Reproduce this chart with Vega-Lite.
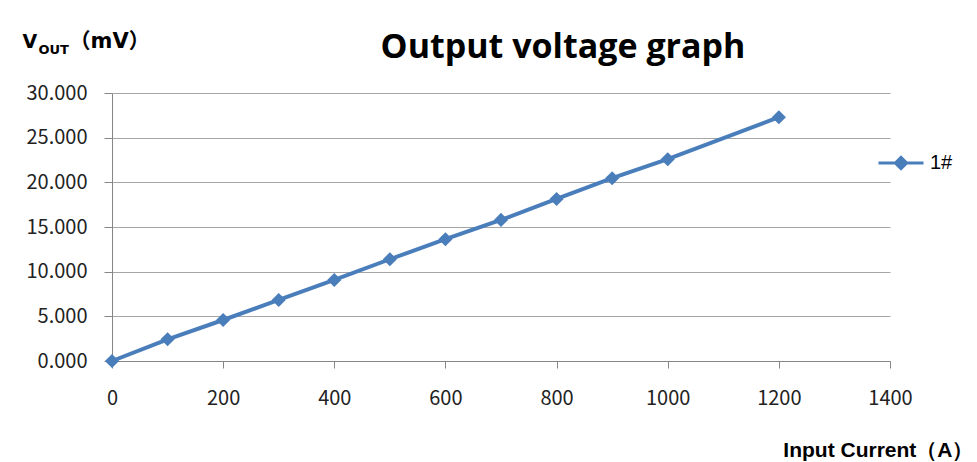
{
  "$schema": "https://vega.github.io/schema/vega-lite/v6.json",
  "width": 778,
  "height": 268,
  "autosize": {"type": "none"},
  "padding": {"left": 112, "top": 93, "right": 87, "bottom": 101},
  "background": "white",
  "title": {"text": "Output voltage graph", "font": "Open Sans", "fontSize": 34, "fontWeight": "bold", "color": "#000000", "anchor": "middle", "dx": 62, "offset": 0, "dy": 35},
  "data": {"values": [
    {"current": 0, "vout": 0.0, "series": "1#"},
    {"current": 100, "vout": 2.43, "series": "1#"},
    {"current": 200, "vout": 4.59, "series": "1#"},
    {"current": 300, "vout": 6.83, "series": "1#"},
    {"current": 400, "vout": 9.07, "series": "1#"},
    {"current": 500, "vout": 11.39, "series": "1#"},
    {"current": 600, "vout": 13.63, "series": "1#"},
    {"current": 700, "vout": 15.79, "series": "1#"},
    {"current": 800, "vout": 18.14, "series": "1#"},
    {"current": 900, "vout": 20.46, "series": "1#"},
    {"current": 1000, "vout": 22.59, "series": "1#"},
    {"current": 1200, "vout": 27.29, "series": "1#"}
  ]},
  "layer": [
    {
      "mark": {"type": "line", "strokeWidth": 4},
      "encoding": {
        "x": {"field": "current", "type": "quantitative", "scale": {"domain": [0, 1400], "nice": false},
          "axis": {"orient": "bottom", "values": [0, 200, 400, 600, 800, 1000, 1200, 1400], "format": "d", "grid": false, "labelFlush": false,
            "labelFont": "Noto Sans CJK SC", "labelFontSize": 20, "labelColor": "#222222", "labelPadding": 20,
            "tickSize": 7, "tickColor": "#868686", "domainColor": "#868686",
            "title": "Input Current（A）", "titleFont": "Liberation Sans", "titleFontSize": 21, "titleFontWeight": "bold", "titleColor": "#000000",
            "titleX": 861, "titleY": 89, "titleAlign": "right", "titleBaseline": "middle", "titleAnchor": null}},
        "y": {"field": "vout", "type": "quantitative", "scale": {"domain": [0, 30], "nice": false},
          "axis": {"orient": "left", "values": [0, 5, 10, 15, 20, 25, 30], "format": ".3f", "grid": true, "gridColor": "#a6a6a6", "gridWidth": 1, "labelFlush": false,
            "labelFont": "Noto Sans CJK SC", "labelFontSize": 20, "labelColor": "#222222", "labelPadding": 17,
            "tickSize": 8, "tickColor": "#868686", "domainColor": "#868686",
            "title": "V", "titleFont": "DejaVu Sans", "titleFontSize": 19, "titleFontWeight": "bold", "titleColor": "#000000",
            "titleAngle": 0, "titleX": -90, "titleY": -46, "titleAlign": "left", "titleBaseline": "alphabetic"}},
        "color": {"field": "series", "type": "nominal", "scale": {"range": ["#4a7ebb"]},
          "legend": {"orient": "none", "legendX": 765, "legendY": 46, "title": null, "padding": 0,
            "symbolType": "M-1,0L1,0M-0.25,0L0,-0.25L0.25,0L0,0.25Z", "symbolSize": 2025, "symbolStrokeWidth": 3,
            "labelFont": "Liberation Sans", "labelFontSize": 20, "labelColor": "#000000", "labelOffset": 5,
            "encode": {"symbols": {"update": {"fill": {"value": "#4a7ebb"}, "stroke": {"value": "#4a7ebb"}, "strokeWidth": {"value": 3}}}}}}
      }
    },
    {
      "mark": {"type": "point", "shape": "diamond", "filled": true, "size": 200, "opacity": 1},
      "encoding": {
        "x": {"field": "current", "type": "quantitative", "scale": {"domain": [0, 1400], "nice": false},
          "axis": {"orient": "top", "labels": false, "ticks": false, "domain": false, "grid": false,
            "title": "（mV）", "titleFont": "DejaVu Sans, Noto Sans CJK SC", "titleFontSize": 21, "titleFontWeight": "bold", "titleColor": "#000000",
            "titleX": -43, "titleY": -46, "titleAlign": "left", "titleBaseline": "alphabetic", "titleAnchor": null}},
        "y": {"field": "vout", "type": "quantitative", "scale": {"domain": [0, 30], "nice": false},
          "axis": {"orient": "right", "labels": false, "ticks": false, "domain": false, "grid": false,
            "title": "OUT", "titleFont": "DejaVu Sans", "titleFontSize": 13, "titleFontWeight": "bold", "titleColor": "#000000",
            "titleAngle": 0, "titleX": -852, "titleY": -40, "titleAlign": "left", "titleBaseline": "alphabetic"}},
        "color": {"field": "series", "type": "nominal", "scale": {"range": ["#4a7ebb"]}, "legend": null}
      }
    }
  ],
  "resolve": {"axis": {"x": "independent", "y": "independent"}},
  "config": {"view": {"stroke": null}}
}
